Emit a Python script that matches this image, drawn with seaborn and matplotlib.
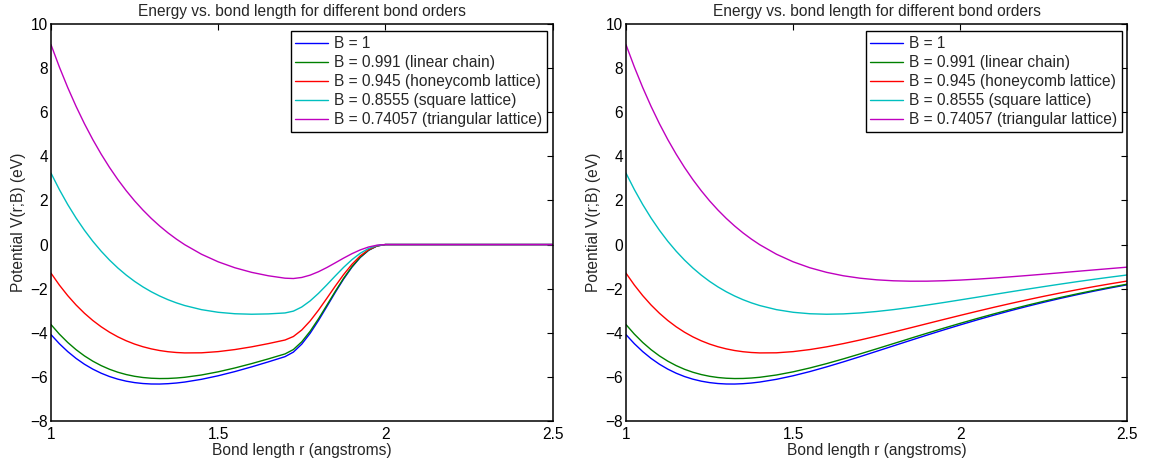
import numpy as np
import pandas as pd
import matplotlib
matplotlib.use("Agg")
import matplotlib.pyplot as plt
import seaborn as sns

# ---------------- data ----------------
r_full = [1.000, 1.025, 1.050, 1.075, 1.100, 1.125, 1.150, 1.175, 1.200, 1.225,
          1.250, 1.275, 1.300, 1.325, 1.350, 1.375, 1.400,
          1.45, 1.50, 1.55, 1.60, 1.65, 1.70, 1.75, 1.80, 1.85, 1.90, 1.95,
          2.00, 2.05, 2.10, 2.15, 2.20, 2.25, 2.30, 2.35, 2.40, 2.45, 2.50]

v_b1 = [-4.084, -4.495, -4.853, -5.162, -5.426, -5.648, -5.833, -5.984, -6.103, -6.194,
        -6.259, -6.301, -6.322, -6.324, -6.308, -6.278, -6.234,
        -6.110, -5.949, -5.759, -5.546, -5.319, -5.082, -4.838, -4.593, -4.349, -4.107, -3.871,
        -3.641, -3.418, -3.203, -2.998, -2.802, -2.615, -2.437, -2.270, -2.111, -1.962, -1.821]
v_b2 = [-3.628, -4.060, -4.438, -4.766, -5.048, -5.287, -5.488, -5.655, -5.789, -5.894,
        -5.973, -6.028, -6.061, -6.075, -6.071, -6.051, -6.018,
        -5.914, -5.770, -5.595, -5.398, -5.184, -4.958, -4.726, -4.491, -4.255, -4.022, -3.793,
        -3.570, -3.354, -3.145, -2.945, -2.753, -2.571, -2.397, -2.233, -2.078, -1.931, -1.794]
v_b3 = [-1.297, -1.836, -2.315, -2.740, -3.114, -3.442, -3.727, -3.974, -4.185, -4.363,
        -4.512, -4.633, -4.730, -4.805, -4.859, -4.894, -4.913,
        -4.908, -4.854, -4.761, -4.638, -4.491, -4.328, -4.152, -3.968, -3.779, -3.588, -3.398,
        -3.210, -3.026, -2.846, -2.673, -2.505, -2.345, -2.192, -2.046, -1.907, -1.776, -1.652]
v_b4 = [3.238, 2.493, 1.816, 1.203, 0.649, 0.149, -0.300, -0.703, -1.063, -1.384,
        -1.669, -1.920, -2.141, -2.333, -2.500, -2.643, -2.765,
        -2.951, -3.071, -3.137, -3.159, -3.144, -3.101, -3.034, -2.950, -2.852, -2.744, -2.629,
        -2.509, -2.388, -2.265, -2.143, -2.023, -1.906, -1.792, -1.681, -1.575, -1.474, -1.377]
v_b5 = [9.062, 8.051, 7.120, 6.265, 5.480, 4.760, 4.101, 3.497, 2.945, 2.442,
        1.982, 1.565, 1.185, 0.841, 0.529, 0.248, -0.006,
        -0.438, -0.782, -1.052, -1.260, -1.415, -1.525, -1.599, -1.643, -1.661, -1.660, -1.641,
        -1.610, -1.568, -1.519, -1.463, -1.404, -1.342, -1.278, -1.213, -1.149, -1.086, -1.023]

# left panel (with cutoff between 1.7 and 2.0 angstroms); identical up to r = 1.70
N_SAME = 23
r_cut = r_full[:N_SAME] + [1.725, 1.75, 1.775, 1.80, 1.825, 1.85, 1.875, 1.90,
                           1.925, 1.95, 1.975, 2.00, 2.50]
c_b1 = v_b1[:N_SAME] + [-4.876, -4.514, -4.025, -3.445, -2.814, -2.175, -1.567, -1.027,
                        -0.584, -0.259, -0.064, 0.0, 0.0]
c_b2 = v_b2[:N_SAME] + [-4.760, -4.409, -3.934, -3.368, -2.752, -2.128, -1.534, -1.006,
                        -0.572, -0.254, -0.063, 0.0, 0.0]
c_b3 = v_b3[:N_SAME] + [-4.169, -3.874, -3.466, -2.976, -2.438, -1.890, -1.365, -0.897,
                        -0.512, -0.228, -0.056, 0.0, 0.0]
c_b4 = v_b4[:N_SAME] + [-3.018, -2.831, -2.556, -2.213, -1.827, -1.426, -1.037, -0.686,
                        -0.394, -0.176, -0.044, 0.0, 0.0]
c_b5 = v_b5[:N_SAME] + [-1.540, -1.492, -1.387, -1.232, -1.042, -0.831, -0.616, -0.415,
                        -0.242, -0.110, -0.028, 0.0, 0.0]

labels = ["B = 1",
          "B = 0.991 (linear chain)",
          "B = 0.945 (honeycomb lattice)",
          "B = 0.8555 (square lattice)",
          "B = 0.74057 (triangular lattice)"]
colors = [(0, 0, 1), (0, 0.5, 0), (1, 0, 0), (0, 0.75, 0.75), (0.75, 0, 0.75)]

title = "Energy vs. bond length for different bond orders"
xlabel = "Bond length r (angstroms)"
ylabel = "Potential V(r;B) (eV)"
xticks = [1, 1.5, 2, 2.5]
xtick_labels = ["1", "1.5", "2", "2.5"]
yticks = [-8, -6, -4, -2, 0, 2, 4, 6, 8, 10]

# ---------------- style ----------------
sns.set_style("white")
plt.rcParams['font.family'] = ['Liberation Sans', 'DejaVu Sans']
FS = 11.2

fig = plt.figure(figsize=(11.51, 4.65), dpi=100)
ax_left = fig.add_axes([0.04431, 0.09462, 0.43571, 0.85376])
ax_right = fig.add_axes([0.54387, 0.09462, 0.43571, 0.85376])

panels = [(ax_left, r_cut, [c_b1, c_b2, c_b3, c_b4, c_b5]),
          (ax_right, r_full, [v_b1, v_b2, v_b3, v_b4, v_b5])]

for ax, rr, series in panels:
    for vals, lab, col in zip(series, labels, colors):
        df = pd.DataFrame({"r": rr, "V": vals})
        sns.lineplot(data=df, x="r", y="V", ax=ax, color=col, label=lab,
                     linewidth=1.0, sort=False, estimator=None)
    ax.set_xlim(1, 2.5)
    ax.set_ylim(-8, 10)
    ax.set_xticks(xticks)
    ax.set_xticklabels(xtick_labels)
    ax.set_yticks(yticks)
    ax.tick_params(direction='in', top=True, right=True, length=4, width=0.8,
                   labelsize=FS, colors='black')
    ax.tick_params(axis='x', pad=4)
    ax.tick_params(axis='y', pad=2)
    for sp in ax.spines.values():
        sp.set_visible(True)
        sp.set_color('black')
        sp.set_linewidth(1.1)
    ax.set_title(title, fontsize=FS, pad=6)
    ax.set_xlabel(xlabel, fontsize=FS, labelpad=1)
    ax.set_ylabel(ylabel, fontsize=FS, labelpad=3)
    leg = ax.legend(loc='upper right', bbox_to_anchor=(0.990, 0.982),
                    borderaxespad=0, fontsize=FS, frameon=True, fancybox=False,
                    framealpha=1, edgecolor='black', handlelength=2.1,
                    handletextpad=0.4, borderpad=0.32, labelspacing=0.26)
    leg.get_frame().set_linewidth(1.0)

fig.savefig("out.png", dpi=100)
